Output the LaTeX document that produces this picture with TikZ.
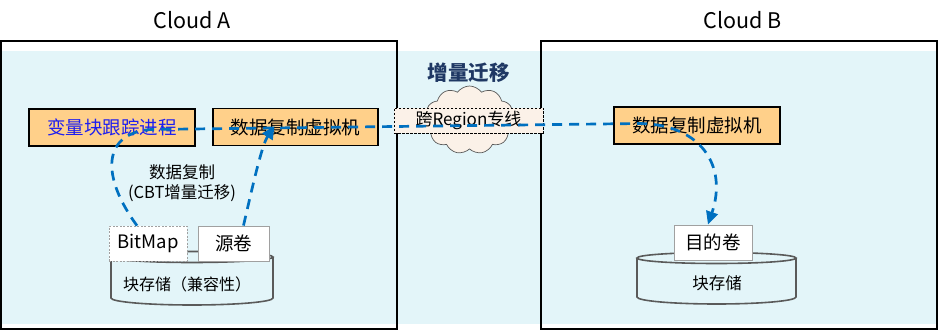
\documentclass[tikz,border=0pt]{standalone}
\usepackage{fontspec}
\setmainfont{Noto Sans CJK SC}
\usetikzlibrary{shapes.symbols,arrows.meta,calc}
\definecolor{bgblue}{HTML}{E3F5F9}
\definecolor{boxorange}{HTML}{FFD08A}
\definecolor{linen}{HTML}{FBF1E8}
\definecolor{flowblue}{HTML}{0070C0}
\definecolor{navy}{HTML}{1F3864}
\definecolor{txtblue}{HTML}{1E1EF0}
\definecolor{cylgray}{HTML}{5A5A5A}
\definecolor{volgray}{HTML}{A0A0A0}
\tikzset{
  frame/.style={draw=black,line width=2pt},
  title/.style={font=\fontsize{21.5}{24}\selectfont,inner sep=0pt},
  procbox/.style={draw=black,line width=1.6pt,fill=boxorange,minimum width=#1,minimum height=37pt,inner sep=0pt,font=\fontsize{18.5}{22}\selectfont},
  volbox/.style={draw=volgray,line width=0.9pt,fill=white,minimum height=35pt,minimum width=#1,inner sep=0pt,font=\fontsize{18.5}{22}\selectfont},
  cyl/.style={draw=cylgray,line width=1.6pt},
  flow/.style={draw=flowblue,line width=2.7pt,dash pattern=on 10pt off 7pt},
  tip/.style={-{Triangle[length=13pt,width=12pt]}},
}
\begin{document}
\begin{tikzpicture}[x=1pt,y=-1pt]
\useasboundingbox (0,0) rectangle (939,331);
\fill[bgblue] (0,51) rectangle (936,324);
\draw[frame] (1,41) rectangle (397,329);
\draw[frame] (541,41) rectangle (937,329);
\node[title] (ta) at (192.5,20) {Cloud A};
\node[title] (tb) at (742.5,20) {Cloud B};

% cylinders
\draw[cyl,fill=bgblue] (111,257) -- (111,298) arc[start angle=180,end angle=0,x radius=81,y radius=7] -- (273,257);
\draw[cyl] (192,257) ellipse[x radius=81,y radius=5.5];
\node[font=\fontsize{16}{20}\selectfont,inner sep=0pt] (storA) at (187,284) {块存储（兼容性）};

\draw[cyl,fill=bgblue] (637,258) -- (637,297) arc[start angle=180,end angle=0,x radius=79.5,y radius=7] -- (796,258);
\draw[cyl] (716.5,258) ellipse[x radius=79.5,y radius=5.5];
\node[font=\fontsize{16.5}{20}\selectfont,inner sep=0pt] (storB) at (717,283) {块存储};

% volume boxes
\node[volbox=78pt,draw=volgray,dash pattern=on 2pt off 1.5pt,line width=0.7pt] (bitmap) at (148,243.5) {BitMap};
\node[volbox=71pt] (src) at (233.5,243.5) {源卷};
\node[volbox=78pt] (dst) at (713,242.5) {目的卷};

% middle
\node[title,font=\bfseries\fontsize{20.5}{24}\selectfont,text=navy] (inc) at (468.5,73) {增量迁移};
\node[cloud,cloud puffs=11,cloud puff arc=110,draw=cylgray,line width=0.7pt,fill=linen,minimum width=90pt,minimum height=68pt,inner sep=0pt] (cl) at (469.5,120) {};
\node[draw=black,dash pattern=on 2.5pt off 1.5pt,line width=0.8pt,fill=linen,minimum width=149pt,minimum height=25pt,inner sep=0pt,font=\fontsize{17}{20}\selectfont] (region) at (468.5,120.5) {跨Region专线};

% process boxes
\node[procbox=166pt,text=txtblue] (track) at (112,127.5) {变量块跟踪进程};
\node[procbox=165pt] (vmA) at (295.5,127) {数据复制虚拟机};
\node[procbox=166pt] (vmB) at (697,125.5) {数据复制虚拟机};

\node[align=center,inner sep=0pt,font=\fontsize{16.5}{20}\selectfont] (copy) at (182,183) {数据复制\\(CBT增量迁移)};

% flows
\draw[flow,tip] ($(bitmap.north)+(-11,0)$) .. controls (100,175) and (103,133) .. ($(track.east)+(-45,2)$) -- ($(vmB.west)+(26,-2)$) .. controls (700,124) and (728,165) .. ($(dst.north)+(-5,0)$);
\draw[flow,tip] ($(src.north)+(10,0)$) .. controls (254,180) and (262,145) .. ($(vmA.center)+(-21,-1)$);
\end{tikzpicture}
\end{document}
